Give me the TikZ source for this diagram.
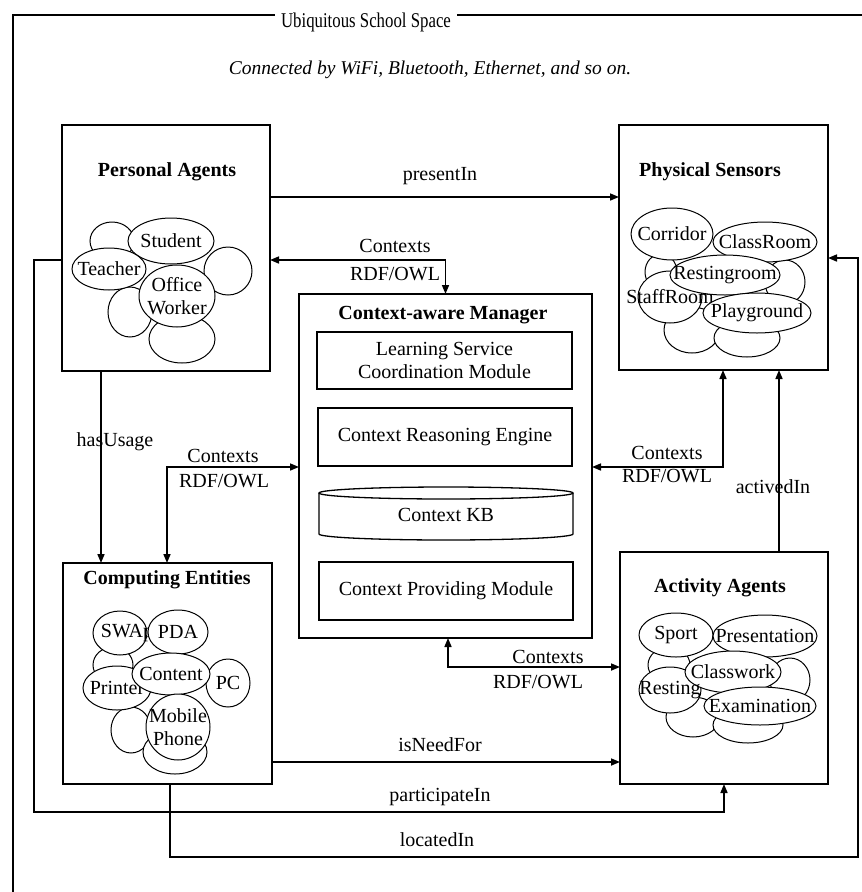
\documentclass[tikz,border=0pt]{standalone}
\usepackage{fontspec}
\setmainfont{Liberation Serif}
\newfontfamily\headfont[FakeStretch=0.8]{Liberation Serif}
\usetikzlibrary{shapes.geometric,arrows.meta}
\newcommand{\txtsize}{\fontsize{20}{23}\selectfont}
\tikzset{
  box/.style={draw, line width=1.4pt, outer sep=0pt, inner sep=0pt},
  inbox/.style={draw, line width=1.3pt, outer sep=0pt, inner sep=0pt, align=center, font=\txtsize},
  ttl/.style={font=\txtsize\bfseries, inner sep=1pt},
  lbl/.style={font=\txtsize, inner sep=1pt, align=center},
  blob/.style n args={3}{ellipse, draw, fill=white, line width=1pt, inner sep=0pt,
    minimum width=#1, minimum height=#2,
    label={[font=\txtsize, align=center, inner sep=0pt]center:#3}},
  conn/.style={line width=1.6pt},
  arr/.style={-{Triangle[length=9pt,width=7pt]}},
  darr/.style={{Triangle[length=9pt,width=7pt]}-{Triangle[length=9pt,width=7pt]}},
}
\begin{document}
\begin{tikzpicture}[x=1pt,y=-1pt]
\useasboundingbox (0,0) rectangle (862,892);
\fill[white] (0,0) rectangle (862,892);

% outer frame of the school space
\begin{scope}
  \clip (0,0) rectangle (862,892);
  \draw[line width=1.4pt] (13,905) -- (13,15) -- (880,15);
\end{scope}
\node[lbl, fill=white, inner xsep=6pt, font=\headfont\fontsize{21}{24}\selectfont]
  (space) at (366,22) {Ubiquitous School Space};
\node[lbl, font=\fontsize{19.5}{22}\selectfont\itshape] (net) at (430,70)
  {Connected by WiFi, Bluetooth, Ethernet, and so on.};

% main boxes
\node[box, minimum width=208pt, minimum height=246pt] (pa) at (166,248) {};
\node[box, minimum width=209pt, minimum height=245pt] (ps) at (723.5,247.5) {};
\node[box, minimum width=293pt, minimum height=344pt] (cm) at (445.5,466) {};
\node[box, minimum width=209pt, minimum height=221pt] (ce) at (167.5,673.5) {};
\node[box, minimum width=208pt, minimum height=232pt] (aa) at (724,668) {};

\node[ttl] (pat) at (167,172) {Personal Agents};
\node[ttl] (pst) at (710,172) {Physical Sensors};
\node[ttl] (cmt) at (443,315) {Context-aware Manager};
\node[ttl] (cet) at (167,580) {Computing Entities};
\node[ttl] (aat) at (720,588) {Activity Agents};

% Personal Agents cloud
\node[blob={44pt}{38pt}{}] (pa1) at (112,241) {};
\node[blob={48pt}{48pt}{}] (pa2) at (228,271) {};
\node[blob={44pt}{50pt}{}] (pa3) at (130,312) {};
\node[blob={66pt}{48pt}{}] (pa4) at (182,339) {};
\node[blob={86pt}{46pt}{Student}] (student) at (171,241) {};
\node[blob={74pt}{42pt}{Teacher}] (teacher) at (109,269) {};
\node[blob={76pt}{62pt}{Office\\Worker}] (office) at (177,296) {};

% Physical Sensors cloud
\node[blob={32pt}{36pt}{}] (ps1) at (661,272) {};
\node[blob={40pt}{44pt}{}] (ps2) at (785,282) {};
\node[blob={56pt}{46pt}{}] (ps3) at (692,330) {};
\node[blob={66pt}{38pt}{}] (ps4) at (747,338) {};
\node[blob={82pt}{52pt}{Corridor}] (corridor) at (672,234) {};
\node[blob={104pt}{40pt}{ClassRoom}] (classroom) at (765,242) {};
\node[blob={64pt}{52pt}{StaffRoom}] (staffroom) at (670,297) {};
\node[blob={110pt}{40pt}{Restingroom}] (restroom) at (725,275) {};
\node[blob={108pt}{40pt}{Playground}] (playground) at (757,313) {};

% Computing Entities cloud
\node[blob={40pt}{36pt}{}] (ce1) at (113,665) {};
\node[blob={40pt}{46pt}{}] (ce2) at (131,730) {};
\node[blob={64pt}{44pt}{}] (ce3) at (175,752) {};
\node[blob={54pt}{44pt}{}] (swap) at (120,633) {};
\node[lbl] (swaptxt) at (127,633) {SWAp};
\node[blob={60pt}{44pt}{PDA}] (pda) at (178,632) {};
\node[blob={44pt}{48pt}{PC}] (pc) at (228,683) {};
\node[blob={68pt}{44pt}{Printer}] (printer) at (117,688) {};
\node[blob={78pt}{42pt}{Content}] (content) at (171,674) {};
\node[blob={64pt}{66pt}{Mobile\\Phone}] (mobile) at (178,727) {};

% Activity Agents cloud: outlines first, names on top
\node[blob={42pt}{36pt}{}] (aa1) at (669,665) {};
\node[blob={40pt}{44pt}{}] (aa2) at (790,680) {};
\node[blob={54pt}{40pt}{}] (aa3) at (693,717) {};
\node[blob={70pt}{36pt}{}] (aa4) at (748,725) {};
\node[blob={74pt}{44pt}{}] (sport) at (676,635) {};
\node[blob={104pt}{42pt}{}] (present) at (765,636) {};
\node[blob={62pt}{46pt}{}] (resting) at (670,690) {};
\node[blob={96pt}{42pt}{}] (classwork) at (733,672) {};
\node[blob={112pt}{38pt}{}] (exam) at (760,706) {};
\node[lbl] (sporttxt) at (sport) {Sport};
\node[lbl] (presenttxt) at (present) {Presentation};
\node[lbl] (classworktxt) at (classwork) {Classwork};
\node[lbl] (restingtxt) at (resting) {Resting};
\node[lbl] (examtxt) at (exam) {Examination};

% Context-aware Manager modules
\node[inbox, minimum width=255pt, minimum height=57pt] (lscm) at (444.5,360.5)
  {Learning Service\\Coordination Module};
\node[inbox, minimum width=254pt, minimum height=58pt] (cre) at (445,437)
  {Context Reasoning Engine};
\draw[line width=1.3pt] (446,493) ellipse [x radius=127pt, y radius=6pt];
\draw[line width=1.3pt] (319,493) -- (319,534)
  arc[start angle=180, end angle=360, x radius=127pt, y radius=6pt] -- (573,493);
\node[lbl] (kb) at (446,515) {Context KB};
\node[inbox, minimum width=254pt, minimum height=58pt] (cpm) at (446,591)
  {Context Providing Module};

% connector levels
\coordinate (yP) at (0,197);
\coordinate (yC) at (0,260);
\coordinate (xH) at (101,0);
\coordinate (xL) at (167,0);
\coordinate (yM) at (0,467);
\coordinate (xR) at (723,0);
\coordinate (xA) at (779,0);
\coordinate (xB) at (448,0);
\coordinate (yB) at (0,667);
\coordinate (yN) at (0,762);
\coordinate (pL) at (34,812);
\coordinate (xPa) at (724,0);
\coordinate (xLo) at (170,0);
\coordinate (lR) at (858,857);
\coordinate (yLo) at (0,258);

% connectors
\draw[conn,arr] (pa.east |- yP) -- (ps.west |- yP);
\draw[conn,darr] (pa.east |- yC) -| (cm.north);
\draw[conn,arr] (pa.south -| xH) -- (ce.north -| xH);
\draw[conn,darr] (ce.north -| xL) |- (cm.west |- yM);
\draw[conn,darr] (cm.east |- yM) -| (ps.south -| xR);
\draw[conn,arr] (aa.north -| xA) -- (ps.south -| xA);
\draw[conn,darr] (cm.south -| xB) |- (aa.west |- yB);
\draw[conn,arr] (ce.east |- yN) -- (aa.west |- yN);
\draw[conn,arr] (pa.west |- yC) -| (pL) -| (aa.south -| xPa);
\draw[conn,arr] (ce.south -| xLo) |- (lR) |- (ps.east |- yLo);

% connector labels
\node[lbl] (l1) at (440,176) {presentIn};
\node[lbl] (l2a) at (395,246) {Contexts};
\node[lbl] (l2b) at (395,274) {RDF/OWL};
\node[lbl] (l3) at (115,442) {hasUsage};
\node[lbl] (l4a) at (223,456) {Contexts};
\node[lbl] (l4b) at (224,481) {RDF/OWL};
\node[lbl] (l5a) at (667,453) {Contexts};
\node[lbl] (l5b) at (667,476) {RDF/OWL};
\node[lbl] (l6) at (773,487) {activedIn};
\node[lbl] (l7a) at (548,657) {Contexts};
\node[lbl] (l7b) at (538,682) {RDF/OWL};
\node[lbl] (l8) at (440,745) {isNeedFor};
\node[lbl] (l9) at (440,797) {participateIn};
\node[lbl] (l10) at (437,840) {locatedIn};
\end{tikzpicture}
\end{document}
